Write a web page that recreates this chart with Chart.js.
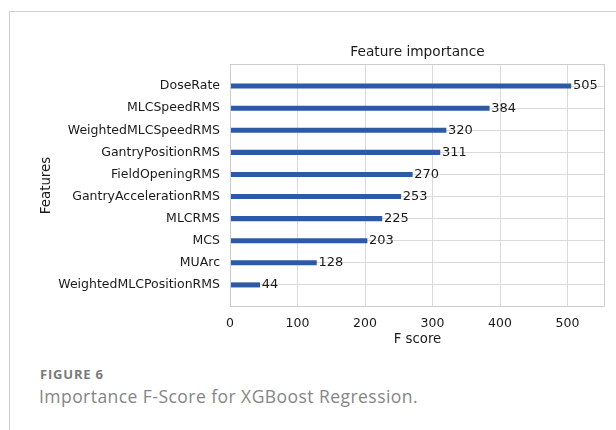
<!DOCTYPE html>
<html>
<head>
<meta charset="utf-8">
<script src="https://cdn.jsdelivr.net/npm/chart.js@4/dist/chart.umd.min.js"></script>
<style>
  html, body { margin: 0; padding: 0; background: #fff; }
  body { width: 616px; height: 430px; position: relative; overflow: hidden; }
  .frame { position: absolute; left: 9px; top: 11px; right: -2px; bottom: -2px;
           border-left: 1px solid #cfcfcf; border-top: 1px solid #cfcfcf; }
  #wrap { position: absolute; left: 0; top: 0; width: 616px; height: 360px; }
  .cap1 { position: absolute; left: 40px; top: 365px; font-family: "Open Sans", sans-serif;
          font-weight: 700; font-size: 13px; color: #7a7a7a; letter-spacing: 0.8px; }
  .cap2 { position: absolute; left: 39px; top: 384px; font-family: "Open Sans", sans-serif;
          font-weight: 400; font-size: 17.5px; color: #858585; letter-spacing: 0.45px; }
</style>
</head>
<body>
<div class="frame"></div>
<div id="wrap"><canvas id="c" width="616" height="360"></canvas></div>
<div class="cap1">FIGURE 6</div>
<div class="cap2">Importance F-Score for XGBoost Regression.</div>
<script>
// Feature names, top to bottom
const features = [
  "DoseRate",
  "MLCSpeedRMS",
  "WeightedMLCSpeedRMS",
  "GantryPositionRMS",
  "FieldOpeningRMS",
  "GantryAccelerationRMS",
  "MLCRMS",
  "MCS",
  "MUArc",
  "WeightedMLCPositionRMS"
];
// F scores per feature
const fScores = [505, 384, 320, 311, 270, 253, 225, 203, 128, 44];
// x-axis ticks
const xTicks = [0, 100, 200, 300, 400, 500];

const FONT = "DejaVu Sans";
const GRID = "#dadada";
const xMax = Math.max(...fScores) * 1.1;

// plot box in canvas pixels
const AREA = { left: 230, right: 605, top: 64, bottom: 307 };

const overlay = {
  id: "overlay",
  afterDatasetsDraw(chart) {
    const ctx = chart.ctx;
    const ca = chart.chartArea;
    ctx.save();
    // frame around the plot
    ctx.strokeStyle = "#cccccc";
    ctx.lineWidth = 1;
    ctx.strokeRect(Math.round(ca.left) + 0.5, Math.round(ca.top) + 0.5,
                   Math.round(ca.right - ca.left) - 1, Math.round(ca.bottom - ca.top) - 1);
    // score labels at the end of each bar
    ctx.fillStyle = "#1a1a1a";
    ctx.font = "13px '" + FONT + "'";
    ctx.textBaseline = "middle";
    ctx.textAlign = "left";
    const meta = chart.getDatasetMeta(0);
    meta.data.forEach((bar, i) => {
      ctx.fillText(String(fScores[i]), bar.x + 2, bar.y);
    });
    // title centred over the plot
    ctx.font = "13.7px '" + FONT + "'";
    ctx.textAlign = "center";
    ctx.fillText("Feature importance", (ca.left + ca.right) / 2, 52);
    ctx.restore();
  }
};

new Chart(document.getElementById("c"), {
  type: "bar",
  data: {
    datasets: [{
      data: fScores.map((v, i) => ({ x: v, y: i })),
      backgroundColor: "#2c5aa6",
      borderWidth: 0,
      barThickness: 4.4
    }]
  },
  options: {
    indexAxis: "y",
    responsive: false,
    animation: false,
    events: [],
    layout: { padding: { left: 28, right: 616 - AREA.right, top: AREA.top, bottom: 0 } },
    plugins: { legend: { display: false }, tooltip: { enabled: false }, title: { display: false } },
    scales: {
      x: {
        type: "linear",
        min: 0,
        max: xMax,
        afterBuildTicks(scale) { scale.ticks = xTicks.map(v => ({ value: v })); },
        afterFit(scale) { scale.height = 360 - AREA.bottom; },
        grid: { color: GRID, lineWidth: 1, drawTicks: false },
        border: { display: false },
        ticks: { padding: 9, color: "#1a1a1a", font: { family: FONT, size: 12.5 } },
        title: { display: true, text: "F score", color: "#1a1a1a",
                 font: { family: FONT, size: 13.3 }, padding: { top: 0, bottom: 12 } }
      },
      y: {
        type: "linear",
        reverse: true,
        offset: false,
        min: -1,
        max: features.length,
        afterBuildTicks(scale) { scale.ticks = features.map((f, i) => ({ value: i })); },
        afterFit(scale) { scale.width = AREA.left - 28; },
        grid: { color: GRID, lineWidth: 1, drawTicks: false, offset: false },
        border: { display: false },
        ticks: {
          padding: 10,
          color: "#1a1a1a",
          font: { family: FONT, size: 12.5 },
          callback: (v) => features[v] ?? ""
        },
        title: { display: true, text: "Features", color: "#1a1a1a",
                 font: { family: FONT, size: 13.4 }, padding: { top: 10, bottom: 0 } }
      }
    }
  },
  plugins: [overlay]
});
</script>
</body>
</html>
